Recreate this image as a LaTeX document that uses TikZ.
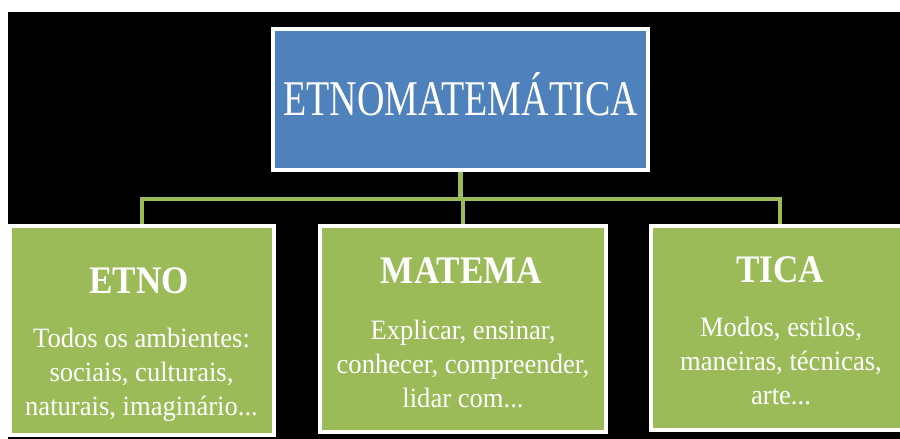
\documentclass[tikz,border=0pt]{standalone}
\usepackage{fontspec}
\setmainfont{Liberation Serif}
\newfontfamily\titlefont[FakeStretch=0.76]{Liberation Serif}
\newfontfamily\headfont[FakeStretch=0.9]{Liberation Serif}
\newfontfamily\bodyfont[FakeStretch=0.95]{Liberation Serif}
\definecolor{slideblue}{HTML}{4F81BD}
\definecolor{slidegreen}{HTML}{9BBB59}
\tikzset{
  box/.style={draw=white, line width=4pt, inner sep=0pt, outer sep=0pt},
  link/.style={draw=slidegreen, line width=4.5pt},
  headtext/.style={text=white, anchor=base, font=\headfont\bfseries\fontsize{39}{40}\selectfont},
  bodytext/.style={text=white, anchor=base, align=center, font=\bodyfont\fontsize{28}{34}\selectfont}
}
\begin{document}
\begin{tikzpicture}[x=1pt,y=-1pt]
\clip (0,0) rectangle (900,439);
\fill[white] (0,0) rectangle (900,439);
\fill[black] (8,12) rectangle (900,439);

% top box
\node[box, fill=slideblue, minimum width=375pt, minimum height=141pt] (top) at (460.5,99.5) {};
\node[text=white, anchor=base, font=\titlefont\fontsize{50}{60}\selectfont] (toplabel) at (460.5,115) {ETNOMATEMÁTICA};

% the three parts
\node[box, fill=slidegreen, minimum width=264pt, minimum height=209pt] (etno) at (142,330.5) {};
\node[box, fill=slidegreen, minimum width=285.5pt, minimum height=206pt] (matema) at (463,329) {};
\node[box, fill=slidegreen, minimum width=258pt, minimum height=203.5pt] (tica) at (780,327.75) {};

\draw[link, shorten <=2pt] (top.south) -- ++(0,29) coordinate (bar);
\draw[link, shorten >=2pt] (bar) -| (etno.north);
\draw[link, shorten >=2pt] (bar) -| (matema.north);
\draw[link, shorten >=2pt] (bar) -| (tica.north);

% base = last line
\node[headtext] (etnohead) at (139,293) {ETNO};
\node[bodytext] (etnobody) at (141.5,415) {Todos os ambientes:\\ sociais, culturais,\\ naturais, imaginário...};
\node[headtext] (matemahead) at (461.5,283) {MATEMA};
\node[bodytext] (matemabody) at (463,407) {Explicar, ensinar,\\ conhecer, compreender,\\ lidar com...};
\node[headtext] (ticahead) at (780,282) {TICA};
\node[bodytext] (ticabody) at (781,404) {Modos, estilos,\\ maneiras, técnicas,\\ arte...};
\end{tikzpicture}
\end{document}
